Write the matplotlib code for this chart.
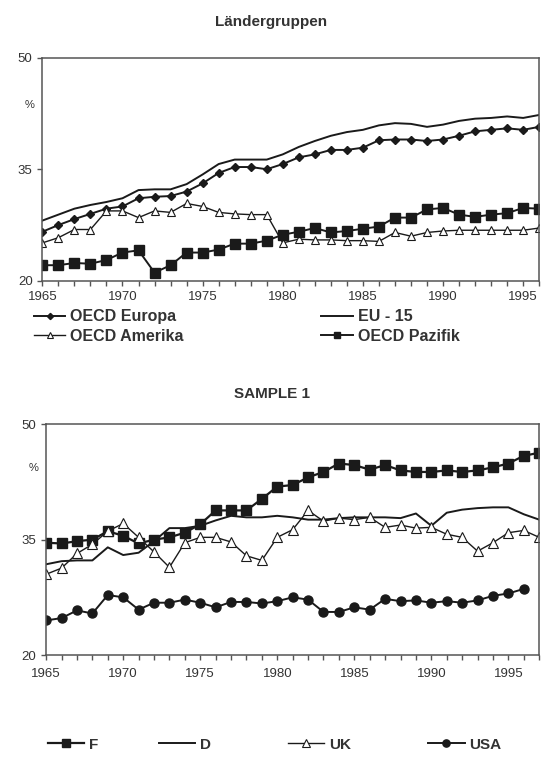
import numpy as np
from matplotlib import pyplot as plt

plt.rcParams['font.family'] = ['Liberation Sans', 'DejaVu Sans']

# Ländergruppen, 1965-1996
years_top = list(range(1965, 1997))
oecd_europa = [26.6, 27.5, 28.3, 29.0, 29.7, 30.0, 31.1, 31.3, 31.4, 32.0, 33.1, 34.5, 35.3, 35.3, 35.0, 35.7,
               36.6, 37.0, 37.6, 37.6, 37.9, 38.9, 39.0, 39.0, 38.8, 39.0, 39.5, 40.1, 40.3, 40.5, 40.3, 40.7]
eu_15 = [28.1, 28.9, 29.7, 30.2, 30.6, 31.1, 32.2, 32.3, 32.3, 33.0, 34.3, 35.7, 36.3, 36.3, 36.3, 37.0,
         38.0, 38.8, 39.5, 40.0, 40.3, 40.9, 41.2, 41.1, 40.7, 41.0, 41.5, 41.8, 41.9, 42.1, 41.9, 42.3]
oecd_amerika = [25.1, 25.8, 26.9, 26.9, 29.4, 29.4, 28.5, 29.4, 29.2, 30.4, 30.0, 29.2, 29.0, 28.9, 28.9, 25.1,
                25.6, 25.5, 25.5, 25.4, 25.4, 25.3, 26.5, 26.0, 26.5, 26.7, 26.8, 26.8, 26.8, 26.8, 26.8, 27.1]
oecd_pazifik = [22.1, 22.1, 22.4, 22.3, 22.8, 23.8, 24.1, 21.1, 22.1, 23.8, 23.8, 24.2, 25.0, 25.0, 25.4, 26.2,
                26.6, 27.1, 26.5, 26.7, 27.0, 27.3, 28.5, 28.5, 29.6, 29.8, 28.9, 28.6, 28.9, 29.1, 29.8, 29.7]

# SAMPLE 1, 1965-1997
years_bot = list(range(1965, 1998))
f_vals = [34.6, 34.5, 34.8, 35.0, 36.1, 35.5, 34.5, 35.0, 35.3, 35.9, 37.0, 38.8, 38.8, 38.8, 40.3, 41.9,
          42.1, 43.1, 43.8, 44.9, 44.7, 44.1, 44.7, 44.0, 43.8, 43.8, 44.0, 43.8, 44.0, 44.4, 44.9, 45.9, 46.3]
d_vals = [31.8, 32.2, 32.3, 32.3, 34.0, 33.0, 33.3, 34.8, 36.5, 36.5, 36.8, 37.5, 38.1, 37.9, 37.9, 38.1,
          37.9, 37.6, 37.6, 37.8, 37.9, 37.9, 37.9, 37.8, 38.4, 36.8, 38.5, 38.9, 39.1, 39.2, 39.2, 38.3, 37.6]
uk_vals = [30.5, 31.3, 33.2, 34.4, 36.1, 37.1, 35.3, 33.4, 31.4, 34.6, 35.3, 35.3, 34.7, 32.9, 32.3, 35.3,
           36.3, 38.8, 37.4, 37.8, 37.6, 37.9, 36.6, 36.9, 36.5, 36.6, 35.7, 35.3, 33.5, 34.6, 35.9, 36.2, 35.3]
usa_years = list(range(1965, 1997))
usa_vals = [24.5, 24.8, 25.8, 25.4, 27.8, 27.5, 25.9, 26.8, 26.8, 27.2, 26.8, 26.2, 26.9, 26.9, 26.7, 27.0,
            27.5, 27.2, 25.6, 25.6, 26.2, 25.9, 27.3, 27.0, 27.1, 26.8, 27.0, 26.8, 27.1, 27.7, 28.0, 28.6]

ytick_vals = [20, 35, 50]
xtick_labels = [1965, 1970, 1975, 1980, 1985, 1990, 1995]

TXT = '#333333'
AX = '#555555'

fig = plt.figure(figsize=(5.43, 7.59), dpi=100)


def style_axes(ax, x0, x1, pad):
    ax.set_xlim(x0, x1)
    ax.set_ylim(20, 50)
    ax.set_yticks(ytick_vals)
    ax.set_xticks(range(x0, x1 + 1), minor=True)
    ax.set_xticks(xtick_labels)
    ax.tick_params(axis='both', which='both', direction='out', length=3.5, width=1, color=AX,
                   labelsize=9.5, labelcolor=TXT)
    ax.tick_params(axis='x', pad=pad)
    for s in ax.spines.values():
        s.set_color(AX)
        s.set_linewidth(1.1)


# top chart
ax1 = fig.add_axes([0.078, 0.630, 0.915, 0.294])
ax1.plot(years_top, oecd_europa, color='#1a1a1a', lw=1.4, marker='D', ms=4.5, label='OECD Europa')
ax1.plot(years_top, eu_15, color='#1a1a1a', lw=1.4, label='EU - 15')
ax1.plot(years_top, oecd_amerika, color='#1a1a1a', lw=1.0, marker='^', ms=6, mfc='white', mec='#1a1a1a',
         mew=0.8, label='OECD Amerika')
ax1.plot(years_top, oecd_pazifik, color='#1a1a1a', lw=1.4, marker='s', ms=7, label='OECD Pazifik')
style_axes(ax1, 1965, 1996, 4)
fig.text(0.5, 0.971, 'Ländergruppen', ha='center', va='center', fontsize=11, fontweight='bold', color=TXT)
fig.text(0.055, 0.862, '%', ha='center', va='center', fontsize=8, color=TXT)
h, l = ax1.get_legend_handles_labels()
order = [0, 2, 1, 3]
fig.legend([h[i] for i in order], [l[i] for i in order], ncol=2, loc='upper left',
           bbox_to_anchor=(0.050, 0.601), frameon=False, handlelength=2.0, markerscale=0.7,
           handletextpad=0.3, columnspacing=8.6, labelspacing=0.3, borderaxespad=0,
           prop={'weight': 'bold', 'size': 11.5}, labelcolor=TXT)

# bottom chart
ax2 = fig.add_axes([0.085, 0.137, 0.908, 0.304])
ax2.plot(years_bot, f_vals, color='#1a1a1a', lw=1.6, marker='s', ms=7, label='F')
ax2.plot(years_bot, d_vals, color='#1a1a1a', lw=1.4, label='D')
ax2.plot(years_bot, uk_vals, color='#1a1a1a', lw=1.0, marker='^', ms=7, mfc='white', mec='#1a1a1a',
         mew=0.8, label='UK')
ax2.plot(usa_years, usa_vals, color='#1a1a1a', lw=1.4, marker='o', ms=6.5, label='USA')
style_axes(ax2, 1965, 1997, 6)
fig.text(0.5, 0.481, 'SAMPLE 1', ha='center', va='center', fontsize=11, fontweight='bold', color=TXT)
fig.text(0.061, 0.383, '%', ha='center', va='center', fontsize=8, color=TXT)

# one legend entry per slot, spaced like the original
h2, l2 = ax2.get_legend_handles_labels()
for hh, ll, xpos in zip(h2, l2, [0.088, 0.292, 0.530, 0.788]):
    fig.legend([hh], [ll], loc='center left', bbox_to_anchor=(xpos, 0.019), frameon=False,
               handlelength=2.4, markerscale=0.8, handletextpad=0.3, borderaxespad=0, borderpad=0,
               prop={'weight': 'bold', 'size': 11}, labelcolor=TXT)

plt.savefig('out.png', dpi=100)
